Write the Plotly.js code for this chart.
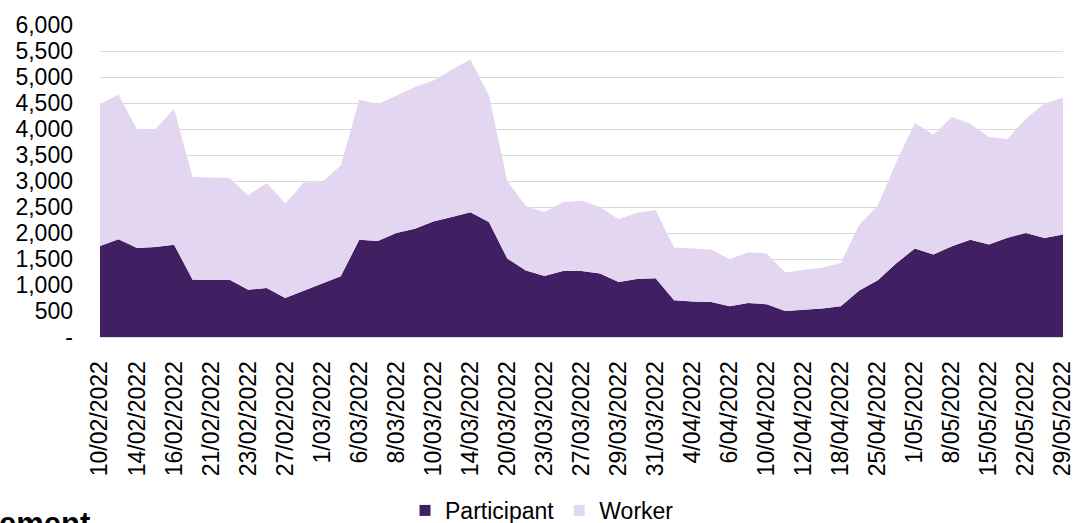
<!DOCTYPE html>
<html>
<head>
<meta charset="utf-8">
<script src="https://cdn.plot.ly/plotly-3.0.1.min.js"></script>
<style>
  html, body { margin: 0; padding: 0; background: #ffffff; overflow: hidden; }
  #chart { width: 1074px; height: 560px; }
</style>
</head>
<body>
<div id="chart"></div>
<script>
// Categories (every other one is labelled on the axis)
const dates = [
  "10/02/2022","11/02/2022","14/02/2022","15/02/2022","16/02/2022","17/02/2022",
  "21/02/2022","22/02/2022","23/02/2022","24/02/2022","27/02/2022","28/02/2022",
  "1/03/2022","3/03/2022","6/03/2022","7/03/2022","8/03/2022","9/03/2022",
  "10/03/2022","11/03/2022","14/03/2022","17/03/2022","20/03/2022","21/03/2022",
  "23/03/2022","24/03/2022","27/03/2022","28/03/2022","29/03/2022","30/03/2022",
  "31/03/2022","1/04/2022","4/04/2022","5/04/2022","6/04/2022","7/04/2022",
  "10/04/2022","11/04/2022","12/04/2022","14/04/2022","18/04/2022","21/04/2022",
  "25/04/2022","28/04/2022","1/05/2022","4/05/2022","8/05/2022","11/05/2022",
  "15/05/2022","18/05/2022","22/05/2022","25/05/2022","29/05/2022"
];

const tickLabels = [
  "10/02/2022","14/02/2022","16/02/2022","21/02/2022","23/02/2022","27/02/2022",
  "1/03/2022","6/03/2022","8/03/2022","10/03/2022","14/03/2022","20/03/2022",
  "23/03/2022","27/03/2022","29/03/2022","31/03/2022","4/04/2022","6/04/2022",
  "10/04/2022","12/04/2022","18/04/2022","25/04/2022","1/05/2022","8/05/2022",
  "15/05/2022","22/05/2022","29/05/2022"
];

const participant = [
  1750,1880,1710,1730,1775,1100,1100,1100,910,940,750,890,
  1030,1170,1870,1845,2000,2080,2220,2310,2400,2210,1505,1280,
  1175,1270,1270,1220,1060,1115,1130,705,685,675,590,655,
  630,500,525,550,590,895,1090,1420,1700,1585,1745,1870,
  1780,1910,2000,1905,1970
];

const worker = [
  2725,2780,2280,2270,2615,1975,1965,1960,1815,2020,1815,2080,
  1950,2130,2695,2630,2640,2725,2715,2830,2940,2435,1485,1240,
  1230,1320,1350,1280,1205,1275,1310,1015,1015,1010,905,975,
  975,740,770,780,835,1265,1440,1945,2415,2305,2485,2230,
  2065,1900,2200,2585,2630
];

const yTickVals = [0,500,1000,1500,2000,2500,3000,3500,4000,4500,5000,5500,6000];
const yTickText = ["-","500","1,000","1,500","2,000","2,500","3,000","3,500","4,000","4,500","5,000","5,500","6,000"];

const seriesNames = ["Participant","Worker"];
const seriesColors = ["#411f63","#e3d6f1"];

const FONT = "Liberation Sans, Arial, sans-serif";

const traces = [
  {
    type: "scatter", mode: "none", name: seriesNames[0],
    x: dates, y: participant, stackgroup: "one",
    fillcolor: seriesColors[0], line: {width: 0},
    showlegend: false, hoverinfo: "x+y+name"
  },
  {
    type: "scatter", mode: "none", name: seriesNames[1],
    x: dates, y: worker, stackgroup: "one",
    fillcolor: seriesColors[1], line: {width: 0},
    showlegend: false, hoverinfo: "x+y+name"
  },
  // legend keys (square swatches)
  {
    type: "scatter", mode: "markers", name: seriesNames[0],
    x: [null], y: [null],
    marker: {symbol: "square", size: 11, color: seriesColors[0]},
    showlegend: true, hoverinfo: "skip"
  },
  {
    type: "scatter", mode: "markers", name: seriesNames[1],
    x: [null], y: [null],
    marker: {symbol: "square", size: 11, color: seriesColors[1]},
    showlegend: true, hoverinfo: "skip"
  }
];

const layout = {
  width: 1074, height: 560,
  margin: {l: 100, r: 11, t: 25, b: 223},
  paper_bgcolor: "#ffffff", plot_bgcolor: "#ffffff",
  font: {family: FONT, size: 23, color: "#000000"},
  showlegend: true,
  legend: {
    orientation: "h", traceorder: "normal",
    x: 0.459, xanchor: "center",
    y: -0.556, yanchor: "middle",
    font: {family: FONT, size: 23, color: "#000000"},
    itemwidth: 30, tracegroupgap: 0,
    bgcolor: "rgba(0,0,0,0)"
  },
  xaxis: {
    type: "category", automargin: false,
    categoryorder: "array", categoryarray: dates,
    range: [0, dates.length - 1],
    tickmode: "array", tickvals: tickLabels, ticktext: tickLabels,
    tickangle: -90,
    ticks: "", ticklabelstandoff: 14,
    showgrid: false, zeroline: false,
    showline: true, linecolor: "#d9d9d9", linewidth: 1,
    tickfont: {family: FONT, size: 23, color: "#000000"},
    fixedrange: true
  },
  yaxis: {
    range: [0, 6000], automargin: false,
    tickmode: "array", tickvals: yTickVals, ticktext: yTickText,
    ticks: "", ticklabelstandoff: 26,
    showgrid: true, gridcolor: "#d9d9d9", gridwidth: 1,
    zeroline: false, showline: false,
    tickfont: {family: FONT, size: 23, color: "#000000"},
    fixedrange: true
  },
  annotations: [
    {
      text: "<b>ement</b>", showarrow: false,
      xref: "paper", yref: "paper",
      x: -0.107, xanchor: "left",
      y: -0.536, yanchor: "top",
      font: {family: FONT, size: 31, color: "#000000"}
    }
  ]
};

Plotly.newPlot("chart", traces, layout, {displayModeBar: false, staticPlot: true});
</script>
</body>
</html>
